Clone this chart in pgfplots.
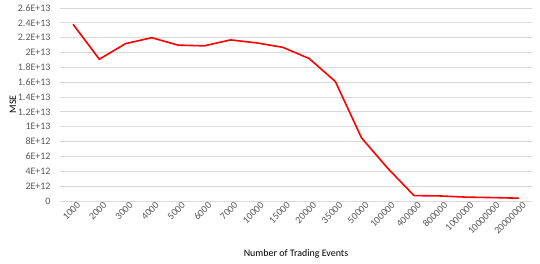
\documentclass[border=0pt]{standalone}
\usepackage{fontspec}
\setmainfont{Carlito}
\usepackage{pgfplots}
\pgfplotsset{compat=1.18}
\definecolor{gridgray}{HTML}{D9D9D9}
\definecolor{ticktext}{HTML}{595959}
\begin{document}
\begin{tikzpicture}
\path[use as bounding box] (-60bp,-63bp) rectangle (480bp,201bp);
\begin{axis}[
  at={(0,0)}, anchor=south west,
  scale only axis,
  width=472bp, height=193bp,
  xmin=-0.5, xmax=17.5,
  ymin=0, ymax=2.6e13,
  xtick={0,...,17},
  xticklabels={1000,2000,3000,4000,5000,6000,7000,10000,15000,20000,35000,50000,100000,400000,800000,1000000,10000000,20000000},
  ytick={0,2e12,4e12,6e12,8e12,1e13,1.2e13,1.4e13,1.6e13,1.8e13,2e13,2.2e13,2.4e13,2.6e13},
  yticklabels={0,2E+12,4E+12,6E+12,8E+12,1E+13,1.2E+13,1.4E+13,1.6E+13,1.8E+13,2E+13,2.2E+13,2.4E+13,2.6E+13},
  scaled y ticks=false,
  ymajorgrids,
  major grid style={gridgray, line width=0.9bp},
  axis line style={draw=none},
  major tick length=0pt,
  tick style={draw=none},
  ticklabel style={font=\fontsize{10}{12}\selectfont, text=ticktext},
  yticklabel style={anchor=east, xshift=-6bp},
  xticklabel style={rotate=45, anchor=east, inner sep=1bp, xshift=3bp, yshift=-6bp},
  xlabel={Number of Trading Events},
  ylabel={MSE},
  label style={font=\fontsize{10}{12}\selectfont, text=ticktext},
  every axis x label/.style={at={(axis description cs:0.5,0)}, anchor=base, yshift=-55bp},
  every axis y label/.style={at={(axis description cs:-0.0932,0.5)}, anchor=base, rotate=90},
  clip=false,
]
\addplot[color=red, line width=1.6bp, line join=round] coordinates {
(0,2.38e13) (1,1.91e13) (2,2.12e13) (3,2.20e13) (4,2.10e13) (5,2.09e13)
(6,2.17e13) (7,2.13e13) (8,2.07e13) (9,1.92e13) (10,1.61e13) (11,8.5e12)
(12,4.4e12) (13,7.3e11) (14,6.8e11) (15,5.2e11) (16,4.6e11) (17,3.8e11)
};
\end{axis}
\end{tikzpicture}
\end{document}
